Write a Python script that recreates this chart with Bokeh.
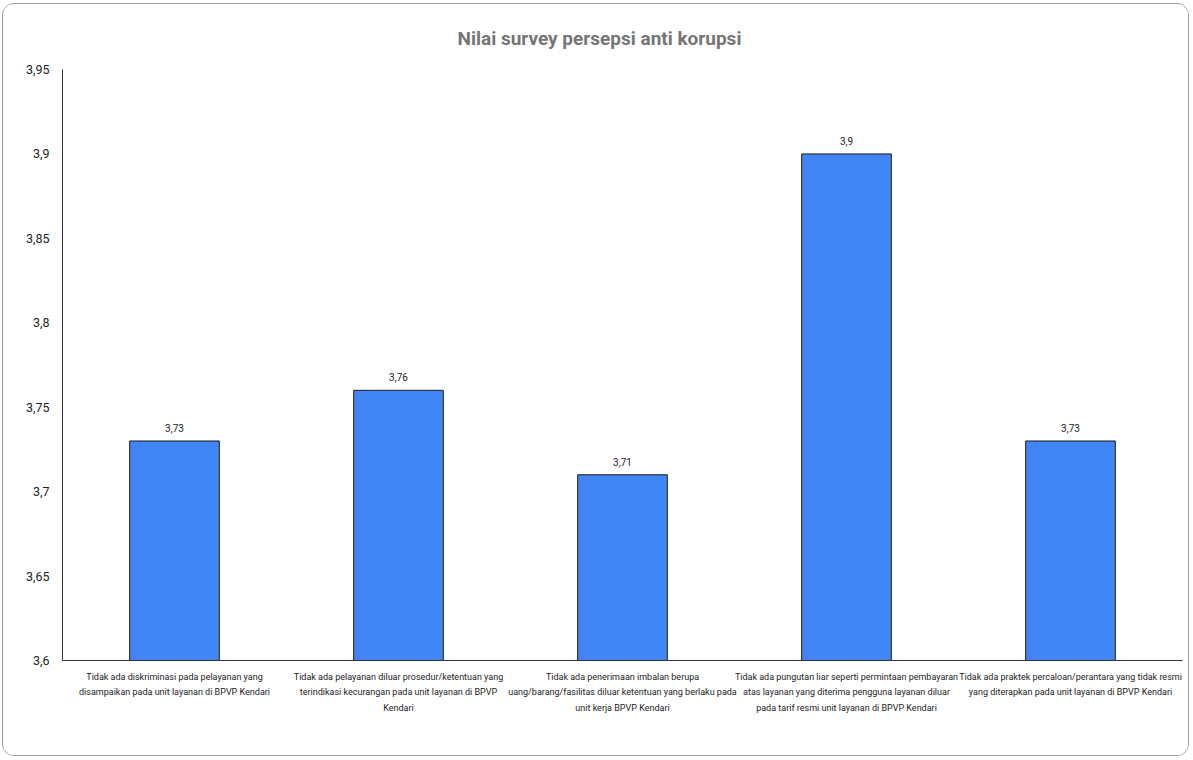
from bokeh.plotting import figure
from bokeh.models import ColumnDataSource, FixedTicker, Range1d, LabelSet
from bokeh.core.properties import value
from bokeh.embed import file_html
from bokeh.resources import INLINE

categories = [
    "Tidak ada diskriminasi pada pelayanan yang\ndisampaikan pada unit layanan di BPVP Kendari",
    "Tidak ada pelayanan diluar prosedur/ketentuan yang\nterindikasi kecurangan pada unit layanan di BPVP\nKendari",
    "Tidak ada penerimaan imbalan berupa\nuang/barang/fasilitas diluar ketentuan yang berlaku pada\nunit kerja BPVP Kendari",
    "Tidak ada pungutan liar seperti permintaan pembayaran\natas layanan yang diterima pengguna layanan diluar\npada tarif resmi unit layanan di BPVP Kendari",
    "Tidak ada praktek percaloan/perantara yang tidak resmi\nyang diterapkan pada unit layanan di BPVP Kendari",
]
values = [3.73, 3.76, 3.71, 3.9, 3.73]
value_labels = ["3,73", "3,76", "3,71", "3,9", "3,73"]
y_ticks = [3.6, 3.65, 3.7, 3.75, 3.8, 3.85, 3.9, 3.95]
y_tick_labels = ["3,6", "3,65", "3,7", "3,75", "3,8", "3,85", "3,9", "3,95"]

FONT = "Roboto"

src = ColumnDataSource(dict(x=categories, top=values, label=value_labels))

p = figure(x_range=categories, y_range=Range1d(3.6, 3.95), width=1187, height=753,
           output_backend="svg", toolbar_location=None,
           min_border_left=59, min_border_right=8, min_border_top=65, min_border_bottom=97)
p.styles = {"border": "1px solid #9e9e9e", "border-radius": "12px",
            "margin-left": "2px", "margin-top": "3px", "overflow": "hidden"}

p.title.text = "Nilai survey persepsi anti korupsi"
p.title.align = "left"
p.title.text_font = FONT
p.title.text_font_size = "19px"
p.title.text_font_style = "bold"
p.title.text_color = "#757575"
p.title.offset = 395
p.title.standoff = 40

p.vbar(x="x", top="top", bottom=3.6, width=0.4, source=src,
       fill_color="#4285F4", line_color="#1a1a1a", line_width=1)

labels = LabelSet(x="x", y="top", text="label", source=src, y_offset=9,
                  text_align="center", text_baseline="bottom",
                  text_font=value(FONT), text_font_size=value("10px"),
                  text_color="#222222")
p.add_layout(labels)

p.xgrid.visible = False
p.ygrid.visible = False
p.outline_line_color = None

p.yaxis.ticker = FixedTicker(ticks=y_ticks)
p.yaxis.major_label_overrides = {t: l for t, l in zip(y_ticks, y_tick_labels)}
p.yaxis.major_tick_line_color = None
p.yaxis.minor_tick_line_color = None
p.yaxis.axis_line_color = "#333333"
p.yaxis.major_label_text_font = FONT
p.yaxis.major_label_text_font_size = "12.5px"
p.yaxis.major_label_text_color = "#222222"
p.yaxis.major_label_standoff = 7

p.xaxis.major_tick_line_color = None
p.xaxis.axis_line_color = "#333333"
p.xaxis.major_label_text_font = FONT
p.xaxis.major_label_text_font_size = "9px"
p.xaxis.major_label_text_line_height = 1.55
p.xaxis.major_label_text_color = "#222222"
p.xaxis.major_label_text_align = "center"
p.xaxis.major_label_standoff = 5

open("out.html", "w").write(file_html(p, INLINE))
